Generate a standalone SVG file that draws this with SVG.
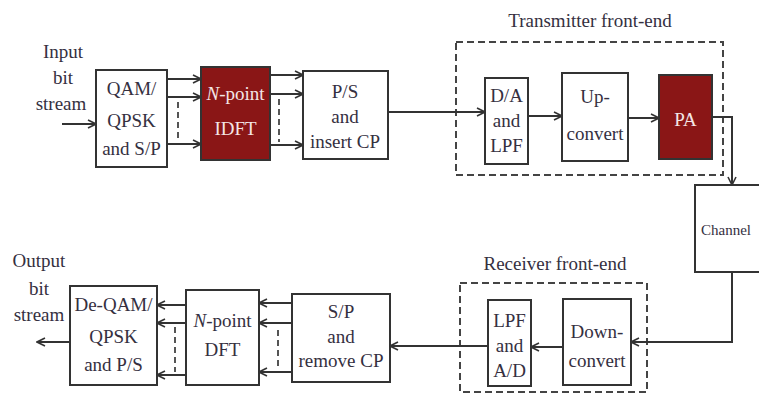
<svg xmlns="http://www.w3.org/2000/svg" width="759" height="394" viewBox="0 0 759 394">
  <style>
    .box { fill: #ffffff; stroke: #333333; stroke-width: 2; }
    .dark { fill: #8a1616; stroke: #333333; stroke-width: 2; }
    .group { fill: none; stroke: #444444; stroke-width: 2; stroke-dasharray: 7 4; }
    .wire { fill: none; stroke: #333333; stroke-width: 2; marker-end: url(#chev); }
    .dash { fill: none; stroke: #555555; stroke-width: 2; stroke-dasharray: 6 4; }
    text { font-family: "Liberation Serif", "DejaVu Serif", serif; font-size: 19px; fill: #35303f; text-anchor: middle; }
    .light { fill: #f4e6e6; }
    .start { text-anchor: start; }
    .small { font-size: 15px; }
  </style>
  <defs>
    <marker id="chev" viewBox="0 0 10 10" refX="9" refY="5" markerWidth="10" markerHeight="10" markerUnits="userSpaceOnUse" orient="auto">
      <path d="M1,1 L9,5 L1,9" fill="none" stroke="#333333" stroke-width="1.6"/>
    </marker>
  </defs>
  <rect width="759" height="394" fill="#ffffff"/>

  <!-- front-end groupings -->
  <g id="tx-frontend">
    <rect class="group" x="456" y="42" width="267" height="133"/>
    <text x="590" y="27">Transmitter front-end</text>
  </g>
  <g id="rx-frontend">
    <rect class="group" x="460" y="283" width="187" height="109"/>
    <text x="555" y="270">Receiver front-end</text>
  </g>

  <!-- terminal labels -->
  <g id="input">
    <text x="63" y="58">Input</text>
    <text x="63" y="84">bit</text>
    <text x="61" y="110">stream</text>
  </g>
  <g id="output">
    <text x="39" y="267">Output</text>
    <text x="39" y="295">bit</text>
    <text x="39" y="321">stream</text>
  </g>

  <!-- transmitter chain -->
  <g id="qam">
    <rect class="box" x="96" y="70" width="71" height="97"/>
    <text x="131.5" y="95">QAM/</text>
    <text x="131.5" y="127">QPSK</text>
    <text x="131.5" y="155">and S/P</text>
  </g>
  <g id="idft">
    <rect class="dark" x="201" y="67" width="69" height="93"/>
    <text class="light" x="235.5" y="100"><tspan font-style="italic">N</tspan>-point</text>
    <text class="light" x="235.5" y="135">IDFT</text>
  </g>
  <g id="ps">
    <rect class="box" x="303" y="71" width="85" height="88"/>
    <text x="345" y="98">P/S</text>
    <text x="345" y="123">and</text>
    <text x="345" y="148">insert CP</text>
  </g>
  <g id="da">
    <rect class="box" x="485" y="78" width="43" height="86"/>
    <text x="506.5" y="102">D/A</text>
    <text x="506.5" y="127">and</text>
    <text x="506.5" y="152">LPF</text>
  </g>
  <g id="upconvert">
    <rect class="box" x="562" y="73" width="66" height="88"/>
    <text x="595" y="103">Up-</text>
    <text x="595" y="140">convert</text>
  </g>
  <g id="pa">
    <rect class="dark" x="659" y="75" width="53" height="84"/>
    <text class="light" x="685.5" y="126">PA</text>
  </g>
  <g id="channel">
    <!-- box runs off the right edge, so only three sides are drawn -->
    <path class="box" d="M759,185 H695 V272 H759"/>
    <text class="start small" x="701" y="235">Channel</text>
  </g>

  <!-- receiver chain -->
  <g id="downconvert">
    <rect class="box" x="563" y="299" width="68" height="86"/>
    <text x="597" y="338">Down-</text>
    <text x="597" y="367">convert</text>
  </g>
  <g id="lpf-ad">
    <rect class="box" x="488" y="300" width="43" height="86"/>
    <text x="509.5" y="327">LPF</text>
    <text x="509.5" y="352">and</text>
    <text x="509.5" y="377">A/D</text>
  </g>
  <g id="sp">
    <rect class="box" x="292" y="294" width="98" height="88"/>
    <text x="341" y="318">S/P</text>
    <text x="341" y="343">and</text>
    <text x="341" y="367">remove CP</text>
  </g>
  <g id="dft">
    <rect class="box" x="186" y="290" width="73" height="95"/>
    <text x="222.5" y="327"><tspan font-style="italic">N</tspan>-point</text>
    <text x="222.5" y="356">DFT</text>
  </g>
  <g id="deqam">
    <rect class="box" x="70" y="286" width="87" height="99"/>
    <text x="113.5" y="311">De-QAM/</text>
    <text x="113.5" y="343">QPSK</text>
    <text x="113.5" y="371">and P/S</text>
  </g>

  <!-- connectors -->
  <g id="connectors">
    <path class="wire" d="M62,124 H96"/>
    <path class="wire" d="M167,79 H201"/>
    <path class="wire" d="M167,97 H201"/>
    <path class="wire" d="M167,144 H201"/>
    <path class="dash" d="M178,102 V140"/>
    <path class="wire" d="M270,75 H303"/>
    <path class="wire" d="M270,94 H303"/>
    <path class="wire" d="M270,145 H303"/>
    <path class="dash" d="M279,99 V142"/>
    <path class="wire" d="M388,112 H485"/>
    <path class="wire" d="M528,116 H562"/>
    <path class="wire" d="M628,118 H659"/>
    <path class="wire" d="M712,117 H732 V185"/>
    <path class="wire" d="M732,272 V342 H631"/>
    <path class="wire" d="M563,347 H531"/>
    <path class="wire" d="M488,346 H390"/>
    <path class="wire" d="M292,303 H259"/>
    <path class="wire" d="M292,323 H259"/>
    <path class="wire" d="M292,372 H259"/>
    <path class="dash" d="M278,330 V368"/>
    <path class="wire" d="M186,305 H157"/>
    <path class="wire" d="M186,323 H157"/>
    <path class="wire" d="M186,375 H157"/>
    <path class="dash" d="M175,327 V372"/>
    <path class="wire" d="M70,342 H37"/>
  </g>
</svg>
